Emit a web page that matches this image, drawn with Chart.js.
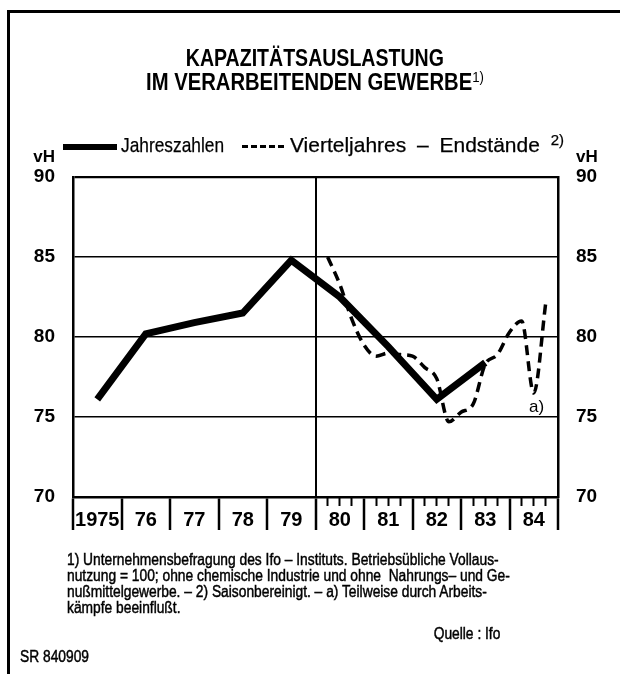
<!DOCTYPE html>
<html lang="de">
<head>
<meta charset="utf-8">
<title>Kapazitätsauslastung im verarbeitenden Gewerbe</title>
<script src="https://cdn.jsdelivr.net/npm/chart.js@4.4.1/dist/chart.umd.min.js"></script>
<style>
  html, body { margin: 0; padding: 0; background: #fff; }
  #page {
    position: relative; width: 620px; height: 674px; overflow: hidden;
    font-family: "Liberation Sans", Arial, sans-serif;
    color: #000;
  }
  #chart { position: absolute; left: 0; top: 0; }
  .frame-left { position: absolute; left: 7px; top: 10px; width: 3px; height: 664px; background: #000; }
  .frame-top { position: absolute; left: 7px; top: 10px; width: 613px; height: 3px; background: #000; }
  .fit { display: inline-block; white-space: nowrap; }
  #title {
    position: absolute; left: 15px; top: 46px; width: 600px; text-align: center;
    font-weight: bold; font-size: 23px; line-height: 24px;
  }
  #title .fit { transform-origin: center; }
  #title sup { font-size: 15px; vertical-align: 8px; line-height: 0; font-weight: normal; }
  .leg { position: absolute; white-space: nowrap; transform-origin: left center; -webkit-text-stroke: 0.25px #000; }
  .leg sup { font-size: 15px; vertical-align: 7px; line-height: 0; }
  #leg-solid { left: 63px; top: 144px; width: 54px; height: 6px; background: #000; }
  #leg-dash {
    left: 242px; top: 145px; width: 42px; height: 3px;
    background: repeating-linear-gradient(to right, #000 0 6px, transparent 6px 9px);
  }
  #leg-t1 { left: 121px; top: 133px; font-size: 21px; }
  #leg-t2 { left: 290px; top: 133px; font-size: 21px; word-spacing: 5px; }
  #notes {
    position: absolute; left: 67px; top: 552px;
    font-size: 16px; line-height: 16px; transform-origin: left top;
    -webkit-text-stroke: 0.45px #000;
  }
  #notes div { white-space: nowrap; }
  #source { position: absolute; right: 120px; top: 625px; font-size: 16px; transform-origin: right top; white-space: nowrap; -webkit-text-stroke: 0.45px #000; }
  #code { position: absolute; left: 20px; top: 648px; font-size: 16px; transform-origin: left top; white-space: nowrap; -webkit-text-stroke: 0.45px #000; }
</style>
</head>
<body>
<div id="page">
  <canvas id="chart" width="620" height="674"></canvas>
  <div class="frame-left"></div>
  <div class="frame-top"></div>
  <div id="title">
    <span class="fit" data-w="258">KAPAZITÄTSAUSLASTUNG</span><br>
    <span class="fit" data-w="338">IM VERARBEITENDEN GEWERBE<sup>1)</sup></span>
  </div>
  <div id="leg-solid" class="leg"></div>
  <div id="leg-t1" class="leg" data-w="103">Jahreszahlen</div>
  <div id="leg-dash" class="leg"></div>
  <div id="leg-t2" class="leg" data-w="274">Vierteljahres – Endstände <sup>2)</sup></div>
  <div id="notes" data-w="443">
    <div>1) Unternehmensbefragung des Ifo – Instituts. Betriebsübliche Vollaus-</div>
    <div>nutzung = 100; ohne chemische Industrie und ohne &nbsp;Nahrungs– und Ge-</div>
    <div>nußmittelgewerbe. – 2) Saisonbereinigt. – a) Teilweise durch Arbeits-</div>
    <div>kämpfe beeinflußt.</div>
  </div>
  <div id="source">Quelle : Ifo</div>
  <div id="code">SR 840909</div>
</div>
<script>
(function() {
    'use strict';

    // Jahreszahlen (annual averages), plotted at mid-year
    const years = [1975, 1976, 1977, 1978, 1979, 1980, 1981, 1982, 1983];
    const annualValues = [76.1, 80.2, 80.9, 81.5, 84.8, 82.5, 79.4, 76.1, 78.4];

    // Vierteljahres-Endstände (quarter-end values), plotted at end of quarter
    const quarters = [
        'I/80', 'II/80', 'III/80', 'IV/80',
        'I/81', 'II/81', 'III/81', 'IV/81',
        'I/82', 'II/82', 'III/82', 'IV/82',
        'I/83', 'II/83', 'III/83', 'IV/83',
        'I/84', 'II/84', 'III/84'
    ];
    const quarterValues = [
        85.0, 83.3, 81.1, 79.5,
        78.8, 79.0, 78.9, 78.8,
        78.1, 77.4, 74.7, 75.3,
        75.8, 78.3, 78.9, 80.3,
        81.0, 76.5, 82.2
    ];

    // axis labels
    const yearLabels = ['1975', '76', '77', '78', '79', '80', '81', '82', '83', '84'];
    const quarterTickYears = [1980, 1981, 1982, 1983, 1984];

    const FONT = '"Liberation Sans", Arial, sans-serif';
    Chart.defaults.font.family = FONT;
    Chart.defaults.color = '#000';

    // squeeze html text to the widths of the condensed original lettering
    document.querySelectorAll('[data-w]').forEach(el => {
        const w = el.getBoundingClientRect().width;
        const s = Number(el.dataset.w) / w;
        el.style.transform = 'scaleX(' + s.toFixed(3) + ')';
        if (el.id === 'notes') {
            document.getElementById('source').style.transform = 'scaleX(' + s.toFixed(3) + ')';
            document.getElementById('code').style.transform = 'scaleX(' + s.toFixed(3) + ')';
        }
    });

    function quarterToX(q) {
        const parts = q.split('/');
        const num = { 'I': 1, 'II': 2, 'III': 3, 'IV': 4 }[parts[0]];
        return 1900 + Number(parts[1]) + num / 4;
    }

    const annualData = years.map((y, i) => ({ x: y + 0.5, y: annualValues[i] }));
    const quarterData = quarters.map((q, i) => ({ x: quarterToX(q), y: quarterValues[i] }));

    // small quarter ticks inside each year from 1980 on
    const quarterTicks = [];
    quarterTickYears.forEach(y => {
        [0.25, 0.5, 0.75].forEach(f => quarterTicks.push({ value: y + f }));
    });

    // "vH" unit labels and the footnote mark a)
    const notesPlugin = {
        id: 'notes',
        afterDraw(chart) {
            const { ctx, scales } = chart;
            const y = scales.y, y2 = scales.y2, x = scales.x;
            const top = y.getPixelForValue(90);
            ctx.save();
            ctx.fillStyle = '#000';
            ctx.textBaseline = 'middle';
            ctx.font = 'bold 17px ' + FONT;
            ctx.textAlign = 'right';
            ctx.fillText('vH', y.right - 18, top - 20);
            ctx.textAlign = 'left';
            ctx.fillText('vH', y2.left + 18, top - 20);
            ctx.font = '17px ' + FONT;
            ctx.textAlign = 'center';
            ctx.fillText('a)', x.getPixelForValue(1984.56), y.getPixelForValue(75.6));
            ctx.restore();
        }
    };

    const ctx = document.getElementById('chart');
    new Chart(ctx, {
        type: 'line',
        data: {
            datasets: [
                {
                    label: 'Jahreszahlen',
                    data: annualData,
                    borderColor: '#000',
                    borderWidth: 7,
                    borderJoinStyle: 'miter',
                    borderCapStyle: 'butt',
                    pointRadius: 0,
                    tension: 0,
                    fill: false
                },
                {
                    label: 'Vierteljahres – Endstände',
                    data: quarterData,
                    borderColor: '#000',
                    borderWidth: 3.5,
                    borderDash: [10, 6],
                    pointRadius: 0,
                    cubicInterpolationMode: 'monotone',
                    fill: false
                }
            ]
        },
        options: {
            responsive: false,
            animation: false,
            layout: { padding: { top: 177, left: 0, right: 0, bottom: 137 } },
            plugins: {
                legend: { display: false },
                tooltip: { enabled: false }
            },
            scales: {
                xq: {
                    type: 'linear',
                    position: 'bottom',
                    weight: 0,
                    min: 1975,
                    max: 1985,
                    afterBuildTicks: scale => { scale.ticks = quarterTicks.slice(); },
                    afterFit: scale => { scale.height = 0; },
                    ticks: { display: false },
                    grid: { drawOnChartArea: false, tickLength: 9, tickColor: '#000', tickWidth: 2 },
                    border: { display: false }
                },
                x: {
                    type: 'linear',
                    position: 'bottom',
                    weight: 1,
                    min: 1975,
                    max: 1985,
                    afterFit: scale => { scale.height = 40; },
                    ticks: {
                        stepSize: 1,
                        autoSkip: false,
                        maxRotation: 0,
                        labelOffset: 24.25,
                        padding: -22,
                        font: { size: 20, weight: 'bold' },
                        callback: (value, index) => yearLabels[index] || ''
                    },
                    grid: {
                        color: c => (c.tick && c.tick.value === 1980) ? '#000' : 'rgba(0,0,0,0)',
                        lineWidth: 2,
                        tickLength: 33,
                        tickColor: '#000',
                        tickWidth: 2.5
                    },
                    border: { display: true, color: '#000', width: 2.5 }
                },
                y: {
                    position: 'left',
                    min: 70,
                    max: 90,
                    afterFit: scale => { scale.width = 73; },
                    ticks: { stepSize: 5, padding: 18, font: { size: 19, weight: 'bold' } },
                    grid: {
                        color: '#000',
                        lineWidth: c => (c.tick && c.tick.value === 90) ? 2.2 : 1.5,
                        drawTicks: false
                    },
                    border: { color: '#000', width: 2.5 }
                },
                y2: {
                    position: 'right',
                    min: 70,
                    max: 90,
                    afterFit: scale => { scale.width = 62; },
                    ticks: { stepSize: 5, padding: 18, font: { size: 19, weight: 'bold' } },
                    grid: { drawOnChartArea: false, drawTicks: false },
                    border: { color: '#000', width: 2.5 }
                }
            }
        },
        plugins: [notesPlugin]
    });
})();
</script>
</body>
</html>
